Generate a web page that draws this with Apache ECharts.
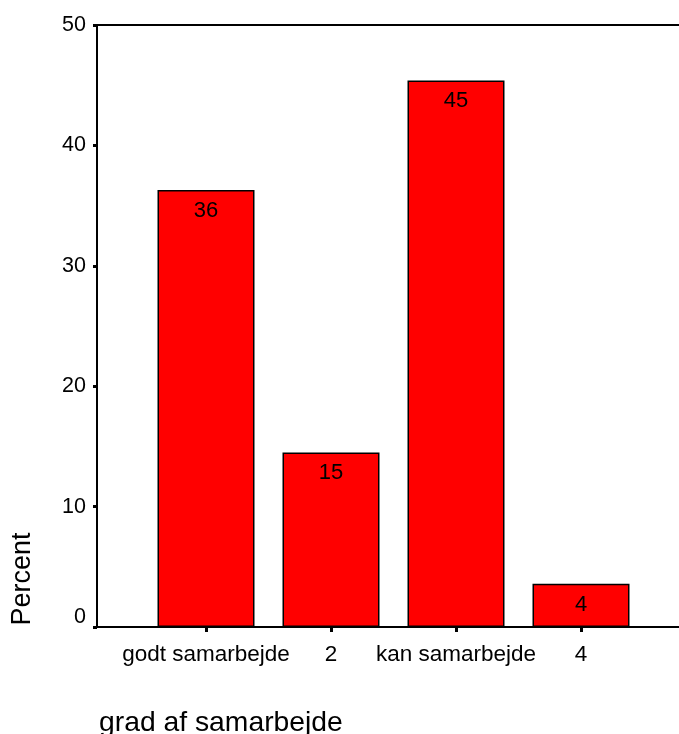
<!DOCTYPE html>
<html>
<head>
<meta charset="utf-8">
<style>
html,body{margin:0;padding:0;background:#fff;}
#chart{width:679px;height:734px;}
</style>
<script src="https://cdn.jsdelivr.net/npm/echarts@6/dist/echarts.min.js"></script>
</head>
<body>
<div id="chart"></div>
<script>
const categories = ['godt samarbejde', '2', 'kan samarbejde', '4'];
const positions = [1, 2, 3, 4];
const percentValues = [36.3, 14.5, 45.4, 3.6];
const yTicks = [0, 10, 20, 30, 40, 50];
const yAxisTitle = 'Percent';
const xAxisTitle = 'grad af samarbejde';

const FONT = '"Liberation Sans", Arial, sans-serif';
const chart = echarts.init(document.getElementById('chart'), null, {renderer: 'canvas'});

const xMin = 0.128, xMax = 4.784;

chart.setOption({
  animation: false,
  backgroundColor: '#ffffff',
  grid: {left: 97, top: 25, right: 0, bottom: 107, containLabel: false},
  xAxis: [{
    type: 'value',
    min: xMin,
    max: xMax,
    splitLine: {show: false},
    axisLine: {show: true, onZero: false, lineStyle: {color: '#000', width: 2}},
    axisTick: {show: true, customValues: positions, length: 5, lineStyle: {color: '#000', width: 3}},
    axisLabel: {
      show: true,
      customValues: positions,
      margin: 16,
      fontSize: 22.5,
      color: '#000',
      fontFamily: FONT,
      formatter: function (v) {
        const i = positions.indexOf(Math.round(v));
        return i >= 0 ? categories[i] : '';
      }
    }
  }, {
    type: 'value',
    position: 'top',
    min: xMin,
    max: xMax,
    splitLine: {show: false},
    axisLine: {show: true, onZero: false, lineStyle: {color: '#000', width: 2}},
    axisTick: {show: false},
    axisLabel: {show: false}
  }],
  yAxis: {
    type: 'value',
    min: yTicks[0],
    max: yTicks[yTicks.length - 1],
    interval: 10,
    splitLine: {show: false},
    axisLine: {show: true, lineStyle: {color: '#000', width: 2}},
    axisTick: {show: true, inside: false, length: 4, lineStyle: {color: '#000', width: 3}},
    axisLabel: {
      margin: 11, fontSize: 21.5, color: '#000', fontFamily: FONT,
      formatter: function (v) { return v === 0 ? '{z|0}' : String(v); },
      rich: {z: {fontSize: 21.5, fontFamily: FONT, color: '#000', padding: [0, 0, 20, 0]}}
    }
  },
  series: [{
    type: 'bar',
    xAxisIndex: 0,
    barWidth: 97,
    data: positions.map((p, i) => [p, percentValues[i]]),
    itemStyle: {color: '#ff0000', borderColor: '#000', borderWidth: 1.5},
    label: {
      show: true,
      position: 'insideTop',
      distance: 10,
      color: '#000',
      fontSize: 22,
      fontFamily: FONT,
      formatter: function (p) { return String(Math.round(p.value[1])); }
    }
  }],
  graphic: [{
    type: 'text',
    x: 23,
    y: 579,
    rotation: Math.PI / 2,
    style: {text: yAxisTitle, font: '27px ' + FONT, fill: '#000', textAlign: 'center', textVerticalAlign: 'middle'}
  }, {
    type: 'text',
    x: 99,
    y: 723,
    style: {text: xAxisTitle, font: '28.3px ' + FONT, fill: '#000', textAlign: 'left', textVerticalAlign: 'middle'}
  }]
});
</script>
</body>
</html>
